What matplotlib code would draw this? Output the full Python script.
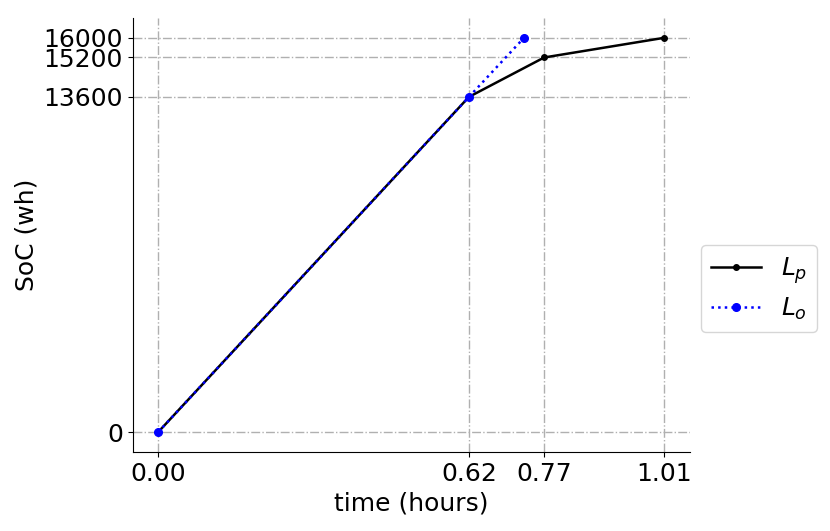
import matplotlib
matplotlib.use('Agg')
import matplotlib.pyplot as plt

# Data
time_p = [0.0, 0.62, 0.77, 1.01]
soc_p = [0, 13600, 15200, 16000]
time_o = [0.0, 0.62, 0.73]
soc_o = [0, 13600, 16000]

x_ticks = [0.00, 0.62, 0.77, 1.01]
y_ticks = [0, 13600, 15200, 16000]

fig = plt.figure(figsize=(8.3, 5.31), dpi=100)
ax = fig.add_axes([0.16, 0.149, 0.671, 0.817])

ax.plot(time_p, soc_p, marker='o', markersize=4, linestyle='-', color='black',
        linewidth=1.8, label='$L_p$')
ax.plot(time_o, soc_o, marker='o', markersize=5.5, linestyle=':', color='blue',
        linewidth=1.8, label='$L_o$')

ax.set_xticks(x_ticks)
ax.set_xticklabels(['%.2f' % t for t in x_ticks])
ax.set_yticks(y_ticks)
ax.tick_params(labelsize=18)
ax.set_xlabel('time (hours)', fontsize=18)
ax.set_ylabel('SoC (wh)', fontsize=18)
ax.grid(True, linestyle='-.', color='#b0b0b0', linewidth=1)
ax.spines['top'].set_visible(False)
ax.spines['right'].set_visible(False)

ax.legend(loc='center left', bbox_to_anchor=(0.998, 0.376), fontsize=18,
          labelspacing=0.4)

fig.savefig('out.png', dpi=100)
